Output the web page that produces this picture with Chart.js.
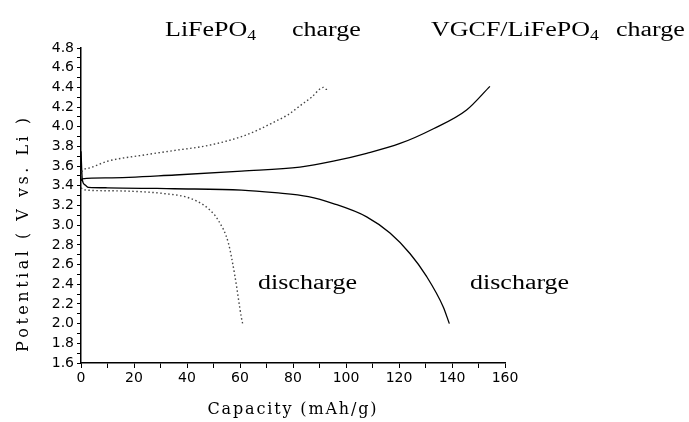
<!DOCTYPE html>
<html><head><meta charset="utf-8">
<script src="https://cdn.jsdelivr.net/npm/chart.js@4"></script>
<style>html,body{margin:0;padding:0;background:#fff}</style>
</head><body>
<canvas id="c" width="689" height="422" style="width:689px;height:422px;display:block"></canvas>
<script>
// ---- data (capacity mAh/g, potential V) ----
const lfpChargeCap = [0, 0.5, 3, 10, 23, 35.5, 48, 60.6, 67, 73, 78, 83, 87, 91.5, 92.5, 93.3];
const lfpChargeV   = [3.50, 3.55, 3.58, 3.65, 3.71, 3.76, 3.81, 3.90, 3.97, 4.05, 4.12, 4.22, 4.30, 4.40, 4.38, 4.39];
const vgcfChargeCap = [0, 0.5, 10, 35.5, 60.6, 82.6, 95.2, 107.8, 120.4, 133, 145.5, 154.3];
const vgcfChargeV   = [3.45, 3.47, 3.48, 3.51, 3.55, 3.59, 3.65, 3.73, 3.83, 3.98, 4.17, 4.41];
const lfpDischargeCap = [0, 1, 10.3, 22.9, 31.7, 39.2, 44, 48, 51.8, 55.6, 58.1, 60.6, 61];
const lfpDischargeV   = [3.38, 3.36, 3.35, 3.34, 3.32, 3.29, 3.24, 3.17, 3.05, 2.82, 2.48, 2.05, 2.0];
const vgcfDischargeCap = [0, 0.5, 1.5, 2.8, 10, 35, 60.6, 73.2, 85.8, 95.2, 107.8, 116.6, 124.2, 130.4, 136.7, 139];
const vgcfDischargeV   = [3.75, 3.46, 3.41, 3.385, 3.38, 3.37, 3.357, 3.33, 3.29, 3.22, 3.085, 2.92, 2.71, 2.48, 2.17, 2.0];

const xTitle = "Capacity (mAh/g)";
const yTitle = "Potential ( V vs. Li )";
const labelLfpCharge = [["LiFePO", false], ["4", true]];
const labelVgcfCharge = [["VGCF/LiFePO", false], ["4", true]];
const labelCharge = "charge";
const labelDischarge = "discharge";

const pts = (xs, ys) => xs.map((x, i) => ({x, y: ys[i]}));

const textPlugin = {
  id: 'texts',
  afterDraw(chart) {
    const ctx = chart.ctx;
    ctx.save();
    ctx.fillStyle = '#000';
    ctx.textBaseline = 'alphabetic';
    ctx.textAlign = 'left';
    const serif = '"Liberation Serif", "Times New Roman", serif';
    const sx = 1.3;
    function rich(parts, x, y, size) {
      ctx.save();
      ctx.translate(x, y);
      ctx.scale(sx, 1);
      let cx = 0;
      for (const [t, sub] of parts) {
        const fs = sub ? size * 0.68 : size;
        ctx.font = fs + 'px ' + serif;
        ctx.fillText(t, cx, sub ? size * 0.22 : 0);
        cx += ctx.measureText(t).width;
      }
      ctx.restore();
    }
    rich(labelLfpCharge, 165, 36, 20);
    rich([[labelCharge, false]], 292, 36, 20);
    rich(labelVgcfCharge, 431, 36, 20);
    rich([[labelCharge, false]], 616, 36, 20);
    rich([[labelDischarge, false]], 258, 289, 20);
    rich([[labelDischarge, false]], 470, 289, 20);

    // spaced serif axis titles
    function spaced(text, cx, baseline, target, rotate) {
      ctx.save();
      ctx.font = '16px "DejaVu Serif", serif';
      const ws = [...text].map(ch => ctx.measureText(ch).width);
      const nat = ws.reduce((a, b) => a + b, 0);
      const extra = (target - nat) / (text.length - 1);
      if (rotate) { ctx.translate(baseline, cx); ctx.rotate(-Math.PI / 2); }
      else { ctx.translate(cx, baseline); }
      let x = -target / 2;
      [...text].forEach((ch, i) => { ctx.fillText(ch, x, 0); x += ws[i] + extra; });
      ctx.restore();
    }
    spaced(xTitle, 292, 414, 169, false);
    spaced(yTitle, 235, 28, 234, true);
    ctx.restore();
  }
};

const tickFont = {family: '"DejaVu Sans", Arial, sans-serif', size: 14};

new Chart(document.getElementById('c'), {
  type: 'line',
  data: {
    datasets: [
      {label: 'LiFePO4 charge', data: pts(lfpChargeCap, lfpChargeV), borderColor: '#444', borderWidth: 1.4, borderDash: [1.5, 2.5], pointRadius: 0, cubicInterpolationMode: 'monotone', fill: false},
      {label: 'LiFePO4 discharge', data: pts(lfpDischargeCap, lfpDischargeV), borderColor: '#444', borderWidth: 1.4, borderDash: [1.5, 2.5], pointRadius: 0, cubicInterpolationMode: 'monotone', fill: false},
      {label: 'VGCF/LiFePO4 charge', data: pts(vgcfChargeCap, vgcfChargeV), borderColor: '#000', borderWidth: 1.3, pointRadius: 0, cubicInterpolationMode: 'monotone', fill: false},
      {label: 'VGCF/LiFePO4 discharge', data: pts(vgcfDischargeCap, vgcfDischargeV), borderColor: '#000', borderWidth: 1.3, pointRadius: 0, cubicInterpolationMode: 'monotone', fill: false}
    ]
  },
  options: {
    responsive: false,
    animation: false,
    layout: {padding: {top: 48, right: 184, left: 0, bottom: 0}},
    plugins: {legend: {display: false}, tooltip: {enabled: false}},
    scales: {
      x: {
        type: 'linear', min: 0, max: 160,
        ticks: {stepSize: 10, autoSkip: false, maxRotation: 0, color: '#000', font: tickFont, padding: 2,
          callback: v => (Math.round(v) % 20 === 0 ? String(Math.round(v)) : '')},
        grid: {drawOnChartArea: false, drawTicks: true, tickLength: 5, color: '#000', tickWidth: 1},
        border: {color: '#000', width: 1.5},
        afterFit: s => { s.height = 59; }
      },
      y: {
        type: 'linear', min: 1.6, max: 4.8,
        ticks: {stepSize: 0.1, autoSkip: false, color: '#000', font: tickFont, padding: 3,
          callback: v => (Math.round(v * 10) % 2 === 0 ? (Math.round(v * 10) / 10).toFixed(1) : '')},
        grid: {drawOnChartArea: false, drawTicks: true, tickLength: 4, color: '#000', tickWidth: 1},
        border: {color: '#000', width: 1.5},
        afterFit: s => { s.width = 81; }
      }
    }
  },
  plugins: [textPlugin]
});
</script>
</body></html>
